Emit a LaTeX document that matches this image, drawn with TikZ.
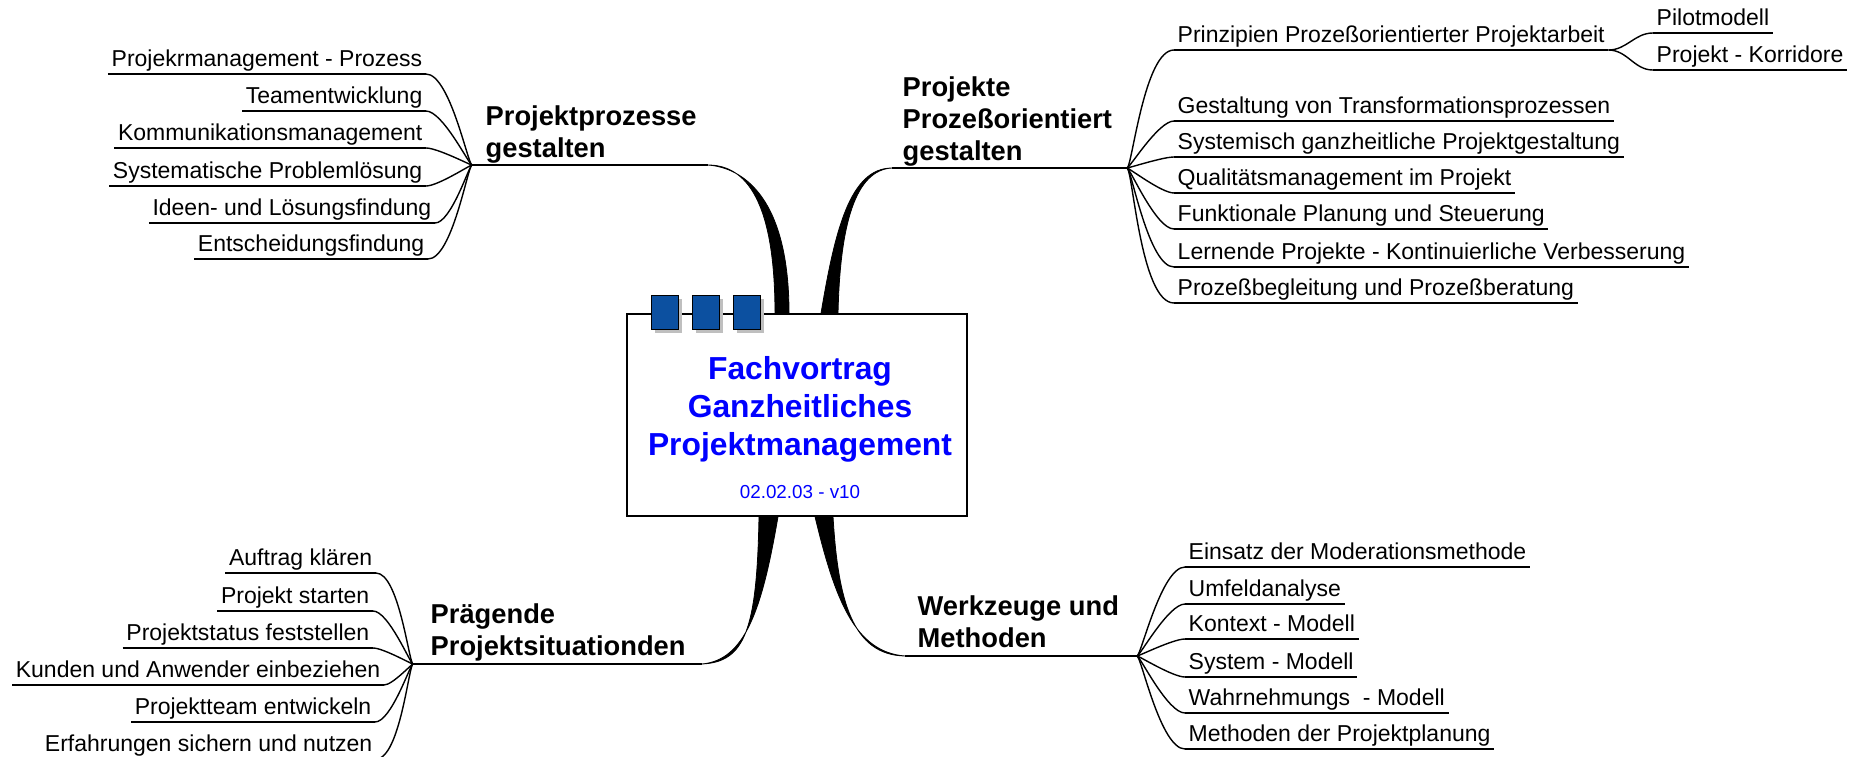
\documentclass[tikz,border=0pt]{standalone}
\usepackage{fontspec}
\setmainfont{Liberation Sans}
\usepackage{xcolor}
\usetikzlibrary{calc, positioning, backgrounds, shadows}
\definecolor{tabblue}{RGB}{12,80,160}

\begin{document}
\begin{tikzpicture}[x=1pt, y=-1pt, line width=1.4pt,
    leaf/.style={font=\fontsize{23}{27}\selectfont, inner xsep=3pt, inner ysep=0pt, text height=17pt, text depth=7pt,
      append after command={(\tikzlastnode.south west) edge (\tikzlastnode.south east)}},
    topic/.style={font=\bfseries\fontsize{27.3}{32}\selectfont, align=left, anchor=base west, inner sep=0pt},
    tab/.style={draw=black, line width=1pt, fill=tabblue, minimum width=27pt, minimum height=34pt, inner sep=0pt,
      drop shadow={shadow xshift=4pt, shadow yshift=-4pt, fill=black!25, opacity=1}},
    limb/.style={fill=black, draw=black, line width=0.8pt},
    hubline/.style={line width=2pt},
    leftlink/.style={out=180, in=0, out looseness=0.1, in looseness=0.6},
    rightlink/.style={out=0, in=180, out looseness=0.1, in looseness=0.6}]
      \useasboundingbox (0,0) rectangle (1863,756);

      \node[draw, fill=white, line width=1.2pt, minimum width=340pt, minimum height=202pt] (ctr) at (797,415) {};
      \node[font=\bfseries\fontsize{31.8}{38}\selectfont, text=blue, align=center, anchor=base] (ttl) at (800,455) {Fachvortrag\\Ganzheitliches\\Projektmanagement};
      \node[font=\fontsize{18.8}{22}\selectfont, text=blue, anchor=base] (ver) at (800,498) {02.02.03 - v10};
      \node[tab] (tab1) at (664.5,312) {};
      \node[tab, right=13pt of tab1] (tab2) {};
      \node[tab, right=13pt of tab2] (tab3) {};

      \node[topic] (hdA) at (485,157) {Projektprozesse\\gestalten};
      \node[topic] (hdB) at (902,160) {Projekte\\Prozeßorientiert\\gestalten};
      \node[topic] (hdC) at (430,655) {Prägende\\Projektsituationden};
      \node[topic] (hdD) at (917,647) {Werkzeuge und\\Methoden};

      \coordinate (tipA) at (708,165);
      \coordinate (hubA) at (472,165);
      \coordinate (tipB) at (892,168);
      \coordinate (hubB) at (1127,168);
      \coordinate (tipC) at (702,664);
      \coordinate (hubC) at (413,664);
      \coordinate (tipD) at (905,656);
      \coordinate (hubD) at (1137,656);

      \begin{scope}[on background layer]
        \fill[limb] ($(ctr.north)+(-22,0)$) .. controls (775,190) and (740,165) .. (tipA)
            .. controls (745,168) and (789,200) .. ($(ctr.north)+(-8,0)$) -- cycle;
        \fill[limb] ($(ctr.north)+(24,0)$) .. controls (835,230) and (850,168) .. (tipB)
            .. controls (855,170) and (840,225) .. ($(ctr.north)+(41,0)$) -- cycle;
        \fill[limb] ($(ctr.south)+(-38,0)$) .. controls (757,630) and (745,662) .. (tipC)
            .. controls (745,660) and (762,610) .. ($(ctr.south)+(-19,0)$) -- cycle;
        \fill[limb] ($(ctr.south)+(18,0)$) .. controls (835,600) and (855,652) .. (tipD)
            .. controls (852,655) and (838,600) .. ($(ctr.south)+(36,0)$) -- cycle;
      \end{scope}

      \draw[hubline] (tipA) -- (hubA);
      \draw[hubline] (tipB) -- (hubB);
      \draw[hubline] (tipC) -- (hubC);
      \draw[hubline] (tipD) -- (hubD);

      \node[leaf, anchor=south east] (pa1) at (426,74) {Projekrmanagement - Prozess};
      \node[leaf, anchor=south east] (pa2) at (426,111) {Teamentwicklung};
      \node[leaf, anchor=south east] (pa3) at (426,148) {Kommunikationsmanagement};
      \node[leaf, anchor=south east] (pa4) at (426,186) {Systematische Problemlösung};
      \node[leaf, anchor=south east] (pa5) at (435,223) {Ideen- und Lösungsfindung};
      \node[leaf, anchor=south east] (pa6) at (428,259) {Entscheidungsfindung};

      \node[leaf, anchor=south west] (pb1) at (1174,50) {Prinzipien Prozeßorientierter Projektarbeit};
      \node[leaf, anchor=south west] (pb2) at (1174,121) {Gestaltung von Transformationsprozessen};
      \node[leaf, anchor=south west] (pb3) at (1174,157) {Systemisch ganzheitliche Projektgestaltung};
      \node[leaf, anchor=south west] (pb4) at (1174,193) {Qualitätsmanagement im Projekt};
      \node[leaf, anchor=south west] (pb5) at (1174,229) {Funktionale Planung und Steuerung};
      \node[leaf, anchor=south west] (pb6) at (1174,267) {Lernende Projekte - Kontinuierliche Verbesserung};
      \node[leaf, anchor=south west] (pb7) at (1174,303) {Prozeßbegleitung und Prozeßberatung};
      \node[leaf, anchor=south west] (pba) at (1653,33) {Pilotmodell};
      \node[leaf, anchor=south west] (pbb) at (1653,70) {Projekt - Korridore};

      \node[leaf, anchor=south east] (pc1) at (376,573) {Auftrag klären};
      \node[leaf, anchor=south east] (pc2) at (373,611) {Projekt starten};
      \node[leaf, anchor=south east] (pc3) at (373,648) {Projektstatus feststellen};
      \node[leaf, anchor=south east] (pc4) at (384,685) {Kunden und Anwender einbeziehen};
      \node[leaf, anchor=south east] (pc5) at (375,722) {Projektteam entwickeln};
      \node[leaf, anchor=south east] (pc6) at (376,759) {Erfahrungen sichern und nutzen};

      \node[leaf, anchor=south west] (pd1) at (1185,567) {Einsatz der Moderationsmethode};
      \node[leaf, anchor=south west] (pd2) at (1185,604) {Umfeldanalyse};
      \node[leaf, anchor=south west] (pd3) at (1185,639) {Kontext - Modell};
      \node[leaf, anchor=south west] (pd4) at (1185,677) {System - Modell};
      \node[leaf, anchor=south west] (pd5) at (1185,713) {Wahrnehmungs~ - Modell};
      \node[leaf, anchor=south west] (pd6) at (1185,749) {Methoden der Projektplanung};

      \path (hubA) edge[leftlink] (pa1.south east)
            (hubA) edge[leftlink] (pa2.south east)
            (hubA) edge[leftlink] (pa3.south east)
            (hubA) edge[leftlink] (pa4.south east)
            (hubA) edge[leftlink] (pa5.south east)
            (hubA) edge[leftlink] (pa6.south east);
      \path (hubB) edge[rightlink] (pb1.south west)
            (hubB) edge[rightlink] (pb2.south west)
            (hubB) edge[rightlink] (pb3.south west)
            (hubB) edge[rightlink] (pb4.south west)
            (hubB) edge[rightlink] (pb5.south west)
            (hubB) edge[rightlink] (pb6.south west)
            (hubB) edge[rightlink] (pb7.south west)
            (pb1.south east) edge[out=0, in=180] (pba.south west)
            (pb1.south east) edge[out=0, in=180] (pbb.south west);
      \path (hubC) edge[leftlink] (pc1.south east)
            (hubC) edge[leftlink] (pc2.south east)
            (hubC) edge[leftlink] (pc3.south east)
            (hubC) edge[leftlink] (pc4.south east)
            (hubC) edge[leftlink] (pc5.south east)
            (hubC) edge[leftlink] (pc6.south east);
      \path (hubD) edge[rightlink] (pd1.south west)
            (hubD) edge[rightlink] (pd2.south west)
            (hubD) edge[rightlink] (pd3.south west)
            (hubD) edge[rightlink] (pd4.south west)
            (hubD) edge[rightlink] (pd5.south west)
            (hubD) edge[rightlink] (pd6.south west);
\end{tikzpicture}
\end{document}
